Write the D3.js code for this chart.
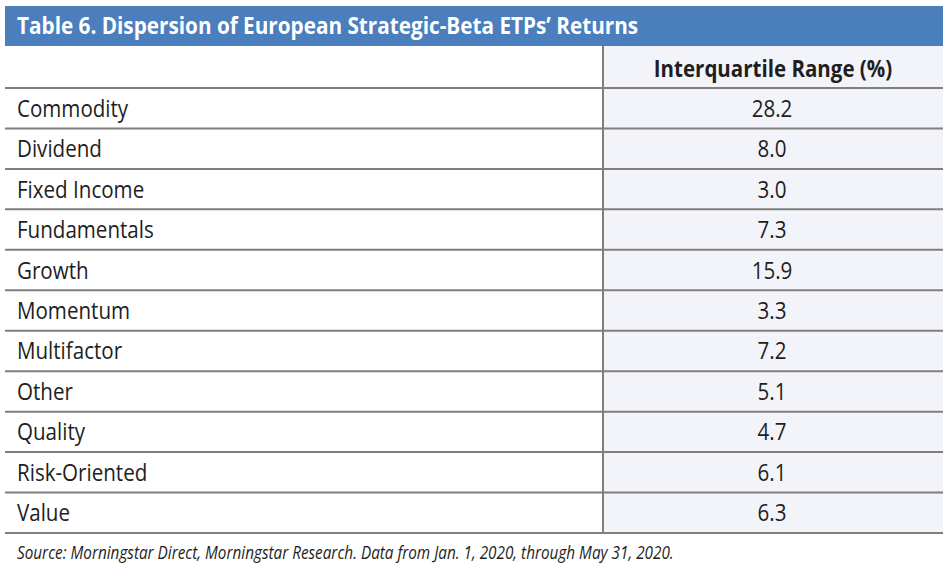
<!DOCTYPE html>
<html><head><meta charset="utf-8">
<script src="https://cdn.jsdelivr.net/npm/d3@7"></script>
<style>body{margin:0;background:#fff;}svg{display:block;font-family:"Open Sans",sans-serif;}</style>
</head><body><svg id="c" width="951" height="568"></svg>
<script>
const title = "Table 6. Dispersion of European Strategic-Beta ETPs\u2019 Returns";
const columnHeader = "Interquartile Range (%)";
const categories = ["Commodity","Dividend","Fixed Income","Fundamentals","Growth","Momentum","Multifactor","Other","Quality","Risk-Oriented","Value"];
const values = [28.2, 8.0, 3.0, 7.3, 15.9, 3.3, 7.2, 5.1, 4.7, 6.1, 6.3];
const source = "Source: Morningstar Direct, Morningstar Research. Data from Jan. 1, 2020, through May 31, 2020.";

const svg = d3.select("#c");
const L = 5, R = 943, splitX = 603;
const y = d3.scaleBand().domain(categories).range([88, 533]);
const SX = 0.875; // horizontal compression of the reference typeface

function label(parent, x, yy, str, opts) {
  const g = parent.append("g").attr("transform", `translate(${x},${yy}) scale(${opts.sx || SX},1)`);
  return g.append("text").attr("x", 0).attr("y", 0)
    .attr("text-anchor", opts.anchor || "start")
    .attr("font-size", opts.size)
    .attr("font-weight", opts.weight || 400)
    .attr("font-style", opts.style || "normal")
    .attr("fill", opts.fill || "#1e1e1e")
    .text(str);
}

svg.append("rect").attr("x", splitX).attr("y", 46).attr("width", R - splitX).attr("height", 533 - 46).attr("fill", "#f3f4f9");
svg.append("rect").attr("x", L).attr("y", 6).attr("width", R - L).attr("height", 40).attr("fill", "#4a7ebc");
label(svg, 17, 34, title, {size: 23.4, weight: 700, fill: "#fff", sx: 0.886});

label(svg, (splitX + R) / 2, 77, columnHeader, {size: 23.5, weight: 700, anchor: "middle", sx: 0.873});

categories.forEach((c, i) => {
  const yy = y(c) + y.bandwidth() / 2 + 8.5;
  label(svg, 17, yy, c, {size: 23.5});
  label(svg, (splitX + R) / 2 - 1, yy, values[i].toFixed(1), {size: 23.5, anchor: "middle"});
});

const lineYs = [88].concat(categories.map(c => y(c) + y.bandwidth()));
svg.selectAll("line.h").data(lineYs).join("line").attr("class", "h")
  .attr("x1", L).attr("x2", R).attr("y1", d => d).attr("y2", d => d)
  .attr("stroke", "#7f7f7f").attr("stroke-width", 2);
svg.append("line").attr("x1", splitX).attr("x2", splitX).attr("y1", 46).attr("y2", 534).attr("stroke", "#7f7f7f").attr("stroke-width", 2);

label(svg, 17, 558.5, source, {size: 18, style: "italic", sx: 0.85});
</script></body></html>
